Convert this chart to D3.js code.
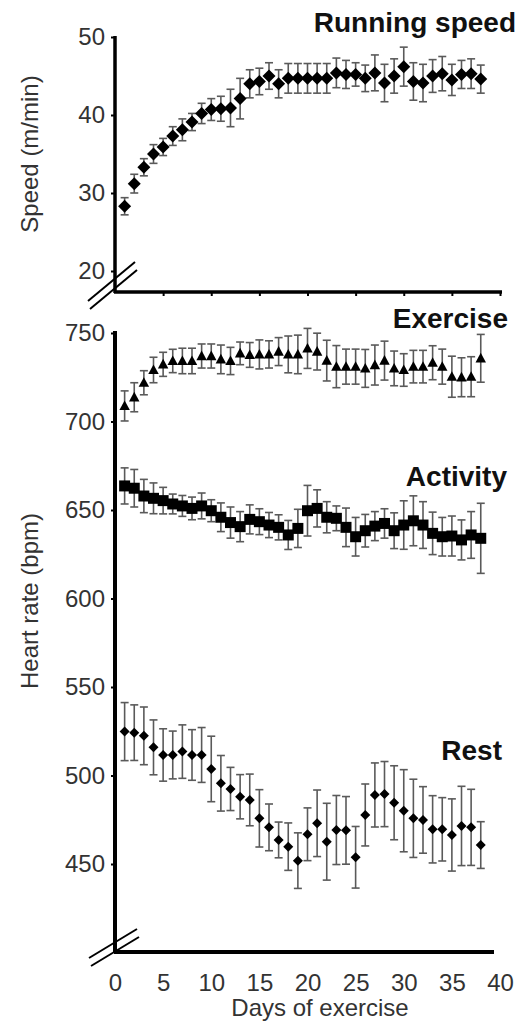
<!DOCTYPE html>
<html>
<head>
<meta charset="utf-8">
<script src="https://cdn.jsdelivr.net/npm/d3@7"></script>
<style>
  body { margin: 0; background: #fff; }
  svg { display: block; font-family: "Liberation Sans", Arial, sans-serif; }
</style>
</head>
<body>
<div id="chart"></div>
<script>
// days of exercise
const days = [1,2,3,4,5,6,7,8,9,10,11,12,13,14,15,16,17,18,19,20,21,22,23,24,25,26,27,28,29,30,31,32,33,34,35,36,37,38];

// running speed (m/min) and SEM
const speed    = [28.3,31.2,33.3,35.0,35.9,37.3,38.1,39.1,40.2,40.7,40.8,40.9,42.1,44.0,44.3,45.0,44.0,44.7,44.7,44.7,44.7,44.7,45.4,45.2,45.2,44.7,45.4,44.1,45.0,46.2,44.3,44.1,45.0,45.3,44.5,45.2,45.3,44.6];
const speedErr = [1.1,1.2,1.1,1.2,1.1,1.2,1.4,1.1,1.3,1.4,1.6,2.4,2.6,1.8,1.7,1.7,1.8,1.9,1.9,1.9,1.9,1.9,1.9,1.8,1.5,1.7,2.3,2.4,2.2,2.5,2.4,2.4,2.1,2.2,2.0,1.8,1.9,1.8];

// heart rate (bpm) during exercise
const exercise    = [708.8,713.7,721.9,729.1,732.3,734.2,734.2,734.2,737.0,737.0,735.1,734.2,738.5,737.6,737.9,737.9,739.5,737.9,737.9,741.3,739.5,734.4,731.0,731.0,731.0,730.0,731.9,734.4,730.0,729.1,731.0,731.0,733.2,731.0,725.3,725.0,725.3,735.7];
const exerciseErr = [8.5,8.2,6.8,7.2,6.8,6.6,7.2,7.2,6.8,6.8,8.1,7.7,6.4,7.0,8.2,7.7,7.9,10.4,10.9,11.3,10.4,11.5,11.9,9.9,9.9,10.7,11.3,11.0,9.8,9.2,9.2,9.2,9.6,9.9,11.6,11.0,11.3,13.5];

// heart rate (bpm) during activity
const activity    = [663.6,662.3,657.9,656.6,655.3,653.4,652.3,650.9,652.3,649.6,645.9,642.9,640.6,644.7,643.4,641.5,640.2,635.9,639.6,649.6,650.9,645.9,645.3,640.2,634.9,638.3,640.9,642.4,638.3,641.5,643.9,641.5,636.8,634.9,635.3,633.1,635.9,634.0];
const activityErr = [10.2,10.6,9.4,8.7,7.5,5.6,5.9,6.4,7.3,6.2,8.1,8.8,8.5,8.2,7.3,7.1,7.1,8.2,10.8,14.3,10.5,8.8,7.0,10.9,10.9,9.2,8.2,8.3,10.1,13.7,14.1,13.2,12.0,10.9,11.3,11.3,13.2,19.8];

// heart rate (bpm) at rest
const rest    = [524.8,524.2,522.4,515.9,511.6,511.6,513.5,511.6,511.6,503.7,495.6,492.4,488.0,486.2,475.8,470.7,463.6,459.8,451.9,466.8,473.0,462.6,469.2,469.0,453.8,477.7,489.0,489.5,484.6,480.1,475.8,474.9,469.6,469.6,466.4,471.5,470.7,460.7];
const restErr = [16.4,15.7,16.3,15.5,14.8,13.5,15.1,14.3,15.5,18.5,15.7,12.2,12.5,14.6,16.2,13.2,10.1,13.4,15.7,14.9,18.8,21.7,19.5,19.1,17.4,17.5,18.1,18.4,20.9,23.2,22.1,18.8,19.0,17.9,20.4,22.4,21.5,13.2];

const speedTicks = [20, 30, 40, 50];
const hrTicks = [450, 500, 550, 600, 650, 700, 750];
const dayTicks = [0, 5, 10, 15, 20, 25, 30, 35, 40];

const W = 526, H = 1022;
const svg = d3.select('#chart').append('svg')
  .attr('width', W).attr('height', H);

const x = d3.scaleLinear().domain([0, 40]).range([115, 500]);
const ySpeed = d3.scaleLinear().domain([20, 50]).range([271, 37]);
const yHr = d3.scaleLinear().domain([450, 750]).range([864, 333]);

// marker shapes
function diamond(s) { return `M0,${-s}L${s},0L0,${s}L${-s},0Z`; }
function triangle(s) { return `M0,${-s}L${s * 0.95},${s * 0.75}L${-s * 0.95},${s * 0.75}Z`; }
function square(s) { return `M${-s},${-s}H${s}V${s}H${-s}Z`; }

function drawSeries(y, vals, errs, shape, size) {
  const g = svg.append('g');
  const pts = days.map((d, i) => ({ d, v: vals[i], e: errs[i] }));
  const cap = 4;
  const bars = g.selectAll('g.eb').data(pts).join('g').attr('class', 'eb')
    .attr('stroke', '#5a5a5a').attr('stroke-width', 1.6);
  bars.append('line')
    .attr('x1', p => x(p.d)).attr('x2', p => x(p.d))
    .attr('y1', p => y(p.v + p.e)).attr('y2', p => y(p.v - p.e));
  bars.append('line')
    .attr('x1', p => x(p.d) - cap).attr('x2', p => x(p.d) + cap)
    .attr('y1', p => y(p.v + p.e)).attr('y2', p => y(p.v + p.e));
  bars.append('line')
    .attr('x1', p => x(p.d) - cap).attr('x2', p => x(p.d) + cap)
    .attr('y1', p => y(p.v - p.e)).attr('y2', p => y(p.v - p.e));
  g.selectAll('path.mk').data(pts).join('path').attr('class', 'mk')
    .attr('d', shape(size))
    .attr('transform', p => `translate(${x(p.d)},${y(p.v)})`)
    .attr('fill', '#000');
}

// ---- top panel: running speed ----
const axTop = svg.append('g').attr('transform', 'translate(115,0)')
  .call(d3.axisLeft(ySpeed).tickValues(speedTicks).tickSize(4).tickPadding(6));
axTop.select('.domain').remove();
axTop.selectAll('text').attr('font-size', 24).attr('fill', '#333');
axTop.selectAll('line').attr('stroke-width', 2);

const axTopX = svg.append('g').attr('transform', 'translate(0,292)')
  .call(d3.axisBottom(x).tickValues(dayTicks.slice(1)).tickSize(4).tickFormat(''));
axTopX.select('.domain').remove();
axTopX.selectAll('line').attr('stroke-width', 2);

svg.append('line').attr('x1', 115).attr('x2', 115).attr('y1', 36).attr('y2', 293)
  .attr('stroke', '#000').attr('stroke-width', 3.5);
svg.append('line').attr('x1', 114).attr('x2', 502).attr('y1', 292).attr('y2', 292)
  .attr('stroke', '#000').attr('stroke-width', 3.5);

drawSeries(ySpeed, speed, speedErr, diamond, 6.5);

// ---- bottom panel: heart rate ----
const axBot = svg.append('g').attr('transform', 'translate(115,0)')
  .call(d3.axisLeft(yHr).tickValues(hrTicks).tickSize(4).tickPadding(6));
axBot.select('.domain').remove();
axBot.selectAll('text').attr('font-size', 24).attr('fill', '#333');
axBot.selectAll('line').attr('stroke-width', 2);

const axBotX = svg.append('g').attr('transform', 'translate(0,952)')
  .call(d3.axisBottom(x).tickValues(dayTicks).tickSize(0).tickPadding(22));
axBotX.select('.domain').remove();
axBotX.selectAll('text').attr('font-size', 24).attr('fill', '#333');

svg.append('line').attr('x1', 115).attr('x2', 115).attr('y1', 331).attr('y2', 953)
  .attr('stroke', '#000').attr('stroke-width', 4);
svg.append('line').attr('x1', 114).attr('x2', 494).attr('y1', 952).attr('y2', 952)
  .attr('stroke', '#000').attr('stroke-width', 4);

drawSeries(yHr, exercise, exerciseErr, triangle, 5.5);
drawSeries(yHr, activity, activityErr, square, 5.5);
drawSeries(yHr, rest, restErr, diamond, 5);

// axis break marks
const breaks = [
  [[88, 301], [135, 262]], [[90, 309], [137, 270]],
  [[89, 958], [137, 929]], [[91, 966], [139, 937]]
];
svg.selectAll('line.brk').data(breaks).join('line').attr('class', 'brk')
  .attr('x1', b => b[0][0]).attr('y1', b => b[0][1])
  .attr('x2', b => b[1][0]).attr('y2', b => b[1][1])
  .attr('stroke', '#000').attr('stroke-width', 2);

// titles and labels
const titles = [
  { t: 'Running speed', x: 516, y: 32 },
  { t: 'Exercise', x: 508, y: 328 },
  { t: 'Activity', x: 507, y: 486 },
  { t: 'Rest', x: 502, y: 760 }
];
svg.selectAll('text.ttl').data(titles).join('text').attr('class', 'ttl')
  .attr('x', d => d.x).attr('y', d => d.y)
  .attr('text-anchor', 'end').attr('font-size', 28).attr('font-weight', 'bold')
  .attr('fill', '#111').text(d => d.t);

svg.append('text').attr('transform', 'translate(38,154) rotate(-90)')
  .attr('text-anchor', 'middle').attr('font-size', 24).attr('fill', '#333')
  .text('Speed (m/min)');
svg.append('text').attr('transform', 'translate(38,601) rotate(-90)')
  .attr('text-anchor', 'middle').attr('font-size', 24).attr('fill', '#333')
  .text('Heart rate (bpm)');
svg.append('text').attr('x', 320).attr('y', 1016)
  .attr('text-anchor', 'middle').attr('font-size', 24).attr('fill', '#333')
  .text('Days of exercise');
</script>
</body>
</html>
